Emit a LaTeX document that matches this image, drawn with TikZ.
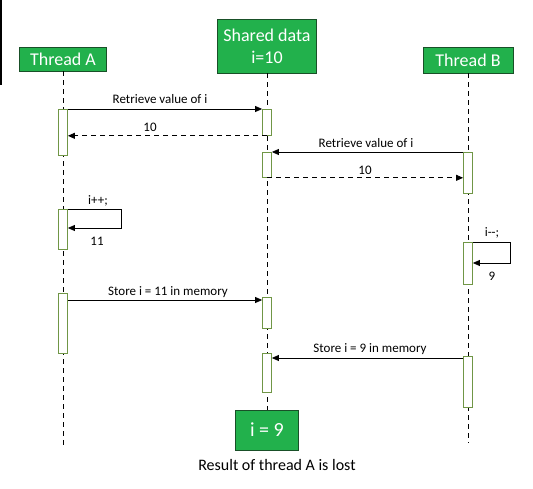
\documentclass[tikz,border=0pt]{standalone}
\usepackage{fontspec}
\setmainfont{Carlito}
\usetikzlibrary{arrows.meta,positioning}
\definecolor{hdrgreen}{RGB}{34,177,76}
\definecolor{hdrline}{RGB}{25,80,40}
\definecolor{actgreen}{RGB}{112,150,70}
\tikzset{
  header/.style={draw=hdrline, fill=hdrgreen, text=white, align=center, inner sep=0pt, line width=0.8pt, font=\fontsize{18}{22}\selectfont},
  actbox/.style={draw=actgreen, fill=white, minimum width=9pt, inner sep=0pt, anchor=north, line width=0.8pt},
  lifeline/.style={dash pattern=on 5pt off 4pt, line width=0.8pt},
  msg/.style={-{Triangle[length=7pt,width=6pt]}, line width=0.8pt},
  reply/.style={msg, dash pattern=on 5pt off 4pt},
  lbl/.style={font=\fontsize{13}{15}\selectfont, inner sep=0pt}
}

\begin{document}
\begin{tikzpicture}[x=1pt, y=-1pt]
  \useasboundingbox (0,0) rectangle (533,489);
  \fill (0,0) rectangle (1.6,85);

  %% Headers
  \node[header, minimum width=87pt, minimum height=24pt] (ta) at (63,59) {Thread A};
  \node[header, minimum width=99pt, minimum height=54pt] (sd) at (267,46) {Shared data\\i=10};
  \node[header, minimum width=90pt, minimum height=26pt] (tb) at (468,60) {Thread B};
  \node[header, minimum width=63pt, minimum height=40pt, font=\fontsize{20}{24}\selectfont] (res) at (267,430) {i = 9};
  \node[font=\fontsize{16}{19}\selectfont, inner sep=0pt] (lost) at (277,465) {Result of thread A is lost};

  %% Lifelines
  \coordinate (endA) at (63,448);
  \coordinate (endB) at (468,443);
  \draw[lifeline] (ta.south) -- (endA);
  \draw[lifeline] (sd.south) -- (res.north);
  \draw[lifeline] (tb.south) -- (endB);

  %% Activation boxes
  \node[actbox, minimum height=46pt] (a1) at (63,109) {};
  \node[actbox, minimum height=26pt] (s1) at (267,109) {};
  \node[actbox, minimum height=25pt] (s2) at (267,152) {};
  \node[actbox, minimum height=41pt] (b1) at (468,152) {};
  \node[actbox, minimum height=40pt] (a2) at (63,209) {};
  \node[actbox, minimum height=42pt] (b2) at (468,242) {};
  \node[actbox, minimum height=60pt] (a3) at (63,293) {};
  \node[actbox, minimum height=31pt] (s3) at (267,297) {};
  \node[actbox, minimum height=39pt] (s4) at (267,353) {};
  \node[actbox, minimum height=51pt] (b3) at (468,356) {};

  %% Messages
  \draw[msg] (a1.north east) -- (s1.north west);
  \node[lbl] (m1) at (160,99) {Retrieve value of i};
  \draw[reply] (s1.south) -- (a1.east |- s1.south);
  \node[lbl] (m2) at (150,127) {10};
  \draw[msg] (b1.north west) -- (s2.north east);
  \node[lbl] (m3) at (366,143) {Retrieve value of i};
  \draw[reply] (s2.south) -- (b1.west |- s2.south);
  \node[lbl] (m4) at (365,170) {10};

  %% Local updates
  \draw[msg] (a2.north east) -- ++(53,0) -- ++(0,19) coordinate (la) -- (a2.east |- la);
  \node[lbl] (m5) at (98,201) {i++;};
  \node[lbl] (m6) at (97,241) {11};
  \draw[msg] (b2.north east) -- ++(37,0) -- ++(0,21) coordinate (lb) -- (b2.east |- lb);
  \node[lbl] (m7) at (492,233) {i-{}-;};
  \node[lbl] (m8) at (492,276) {9};

  %% Stores
  \draw[msg] (a3.east |- 0,300) -- (s3.west |- 0,300);
  \node[lbl] (m9) at (168,292) {Store i = 11 in memory};
  \draw[msg] (b3.west |- 0,358) -- (s4.east |- 0,358);
  \node[lbl] (m10) at (370,349) {Store i = 9 in memory};
\end{tikzpicture}
\end{document}
